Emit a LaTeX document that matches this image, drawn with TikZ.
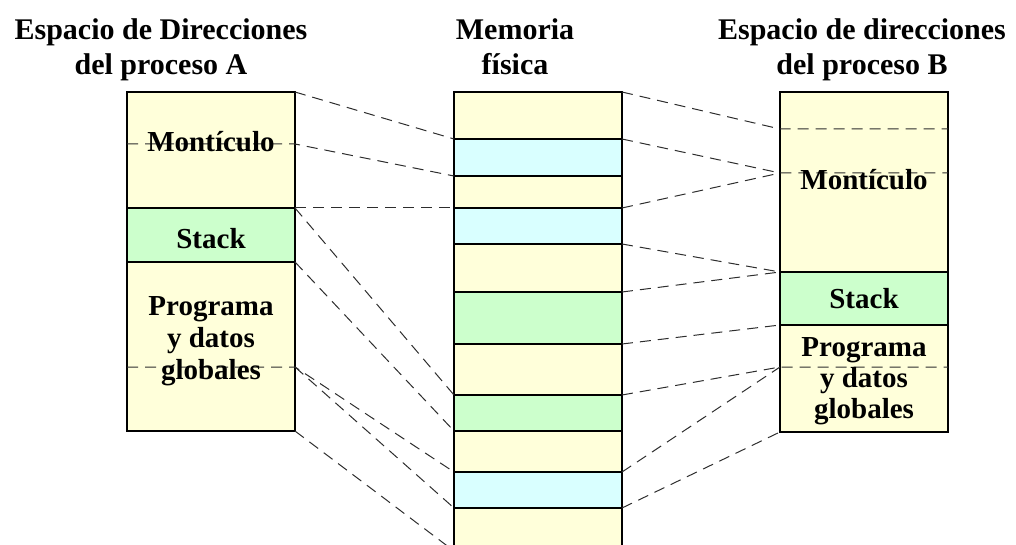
\documentclass[tikz,border=0pt]{standalone}
\usepackage{fontspec}
\setmainfont{Liberation Serif}
\usepackage{tikz}
\usetikzlibrary{positioning}
\definecolor{segyellow}{RGB}{255,255,218}
\definecolor{segcyan}{RGB}{217,255,255}
\definecolor{seggreen}{RGB}{204,255,204}
\definecolor{linkgray}{RGB}{45,45,45}

\begin{document}
\begin{tikzpicture}[x=1pt, y=-1pt,
		seg/.style={draw=black, line width=1.2pt, minimum width=168pt, inner sep=0pt, outer sep=0pt},
		link/.style={draw=linkgray, line width=1pt, dash pattern=on 11pt off 7pt},
		title/.style={align=center, anchor=base, font=\bfseries\fontsize{30}{35}\selectfont},
		lbl/.style={align=center, anchor=base, font=\bfseries\fontsize{29}{32}\selectfont}
	]
	\useasboundingbox (0,0) rectangle (1016,545);
	\clip (0,0) rectangle (1016,545);

	% titles (base = last line)
	\node[title] (tA) at (161,75) {Espacio de Direcciones\\del proceso A};
	\node[title] (tM) at (515,75) {Memoria\\física};
	\node[title] (tB) at (862,75) {Espacio de direcciones\\del proceso B};

	% process A
	\node[seg, fill=segyellow, minimum height=116pt, anchor=north west] (aheap) at (127,92) {};
	\node[seg, fill=seggreen, minimum height=54pt, below=0pt of aheap] (astack) {};
	\node[seg, fill=segyellow, minimum height=169pt, below=0pt of astack] (aprog) {};

	% physical memory
	\node[seg, fill=segyellow, minimum height=47pt, anchor=north west] (m1) at (454,92) {};
	\node[seg, fill=segcyan, minimum height=37pt, below=0pt of m1] (m2) {};
	\node[seg, fill=segyellow, minimum height=32pt, below=0pt of m2] (m3) {};
	\node[seg, fill=segcyan, minimum height=36pt, below=0pt of m3] (m4) {};
	\node[seg, fill=segyellow, minimum height=48pt, below=0pt of m4] (m5) {};
	\node[seg, fill=seggreen, minimum height=52pt, below=0pt of m5] (m6) {};
	\node[seg, fill=segyellow, minimum height=51pt, below=0pt of m6] (m7) {};
	\node[seg, fill=seggreen, minimum height=36pt, below=0pt of m7] (m8) {};
	\node[seg, fill=segyellow, minimum height=41pt, below=0pt of m8] (m9) {};
	\node[seg, fill=segcyan, minimum height=36pt, below=0pt of m9] (m10) {};
	\node[seg, fill=segyellow, minimum height=43pt, below=0pt of m10] (m11) {};

	% process B
	\node[seg, fill=segyellow, minimum height=180pt, anchor=north west] (bheap) at (780,92) {};
	\node[seg, fill=seggreen, minimum height=53pt, below=0pt of bheap] (bstack) {};
	\node[seg, fill=segyellow, minimum height=107pt, below=0pt of bstack] (bprog) {};

	% cut points inside the address spaces
	\coordinate (acutL1) at ([yshift=-52pt]aheap.north west);
	\coordinate (acutR1) at ([yshift=-52pt]aheap.north east);
	\coordinate (acutL2) at ([yshift=-105pt]aprog.north west);
	\coordinate (acutR2) at ([yshift=-105pt]aprog.north east);
	\coordinate (bcutL1) at ([yshift=-37pt]bheap.north west);
	\coordinate (bcutR1) at ([yshift=-37pt]bheap.north east);
	\coordinate (bcutL2) at ([yshift=-81pt]bheap.north west);
	\coordinate (bcutR2) at ([yshift=-81pt]bheap.north east);
	\coordinate (bcutL3) at ([yshift=-42pt]bprog.north west);
	\coordinate (bcutR3) at ([yshift=-42pt]bprog.north east);

	% A -> memory
	\draw[link] (aheap.north east) -- (m2.north west);
	\draw[link] (acutL1) -- (acutR1) -- (m2.south west);
	\draw[link] (astack.north east) -- (m4.north west);
	\draw[link] (astack.north east) -- (m8.north west);
	\draw[link] (astack.south east) -- (m8.south west);
	\draw[link] (acutL2) -- (acutR2) -- (m10.north west);
	\draw[link] (acutR2) -- (m10.south west);
	\draw[link] (aprog.south east) -- (m11.south west);

	% memory -> B
	\draw[link] (m1.north east) -- (bcutL1) -- (bcutR1);
	\draw[link] (m2.north east) -- (bcutL2) -- (bcutR2);
	\draw[link] (m4.north east) -- (bcutL2);
	\draw[link] (m5.north east) -- (bstack.north west);
	\draw[link] (m6.north east) -- (bstack.north west);
	\draw[link] (m7.north east) -- (bstack.south west);
	\draw[link] (m8.north east) -- (bcutL3) -- (bcutR3);
	\draw[link] (m10.north east) -- (bcutL3);
	\draw[link] (m10.south east) -- (bprog.south west);

	% labels (base = last line)
	\node[lbl] (lAheap) at (211,152) {Montículo};
	\node[lbl] (lAstack) at (211,248) {Stack};
	\node[lbl] (lAprog) at (211,379) {Programa\\y datos\\globales};
	\node[lbl] (lBheap) at (864,190) {Montículo};
	\node[lbl] (lBstack) at (864,308) {Stack};
	\node[lbl, font=\bfseries\fontsize{29}{31}\selectfont] (lBprog) at (864,418) {Programa\\y datos\\globales};
\end{tikzpicture}
\end{document}
